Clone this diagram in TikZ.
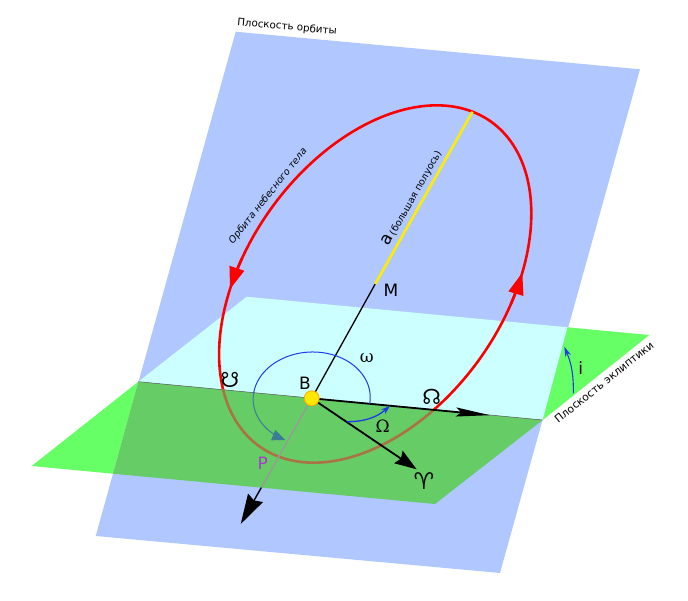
\documentclass[tikz,border=0pt]{standalone}
\usepackage{fontspec}
\setmainfont{DejaVu Sans}
\newfontfamily\serifsym{DejaVu Serif}
\usetikzlibrary{arrows.meta}

\definecolor{orbplane}{RGB}{176,200,255}
\definecolor{eclback}{RGB}{204,255,255}
\definecolor{eclbright}{RGB}{102,255,102}
\definecolor{eclfront}{RGB}{102,204,102}
\definecolor{orbred}{RGB}{255,0,0}
\definecolor{orbbrown}{RGB}{170,115,70}
\definecolor{angblue}{RGB}{30,60,230}
\definecolor{angteal}{RGB}{60,125,150}
\definecolor{perilbl}{RGB}{170,60,200}

\tikzset{
  orbit/.style={line width=2.6pt, line cap=round},
  lbl/.style={inner sep=0pt, font=\fontsize{17}{17}\selectfont},
  sym/.style={inner sep=0pt, font=\fontsize{17}{17}\selectfont\serifsym},
  nodesym/.style={inner sep=0pt, font=\fontsize{21}{21}\selectfont},
  small/.style={inner sep=0pt, font=\fontsize{10.3}{10.3}\selectfont},
  declare function={ox(\t)=375.2+97.3*cos(\t)+122.1*sin(\t);
                    oy(\t)=284-172.3*cos(\t)+47.3*sin(\t);
                    wx(\t)=311.7+58*cos(\t)+8*sin(\t);
                    wy(\t)=398.3+5.5*cos(\t)-46*sin(\t);}
}

\begin{document}
\begin{tikzpicture}[x=1pt,y=-1pt]
\useasboundingbox (0,0) rectangle (688,600);

% plane of the orbit
\fill[orbplane] (235.7,31.7) -- (640,69.3) -- (500,573) -- (95.7,536) -- cycle;

% plane of the ecliptic
\coordinate (e1) at (31.7,466);
\coordinate (e2) at (246.7,296.7);
\coordinate (e3) at (649.3,335);
\coordinate (e4) at (435,504);
\coordinate (nl) at (138.3,381.7);
\coordinate (nr) at (542.7,420);
\coordinate (t1) at (567.7,327.3);
\coordinate (t2) at (113,473.7);
\fill[eclback] (nl) -- (e2) -- (t1) -- (nr) -- cycle;
\fill[eclbright] (e1) -- (nl) -- (t2) -- cycle;
\fill[eclbright] (t1) -- (e3) -- (nr) -- cycle;
\fill[eclfront] (nl) -- (nr) -- (e4) -- (t2) -- cycle;
\draw[gray!70!black, line width=0.5pt] (nl) -- (nr);

% orbit
\draw[orbit, orbred] plot[domain=-141.7:119.4, samples=150] ({ox(\x)},{oy(\x)});
\draw[orbit, orbbrown] plot[domain=119.4:218.3, samples=80] ({ox(\x)},{oy(\x)});
\draw[orbred, line width=2.6pt, -{Triangle[length=22pt,width=15pt]}]
  plot[domain=-97:-107, samples=8] ({ox(\x)},{oy(\x)});
\draw[orbred, line width=2.6pt, -{Triangle[length=22pt,width=15pt]}]
  plot[domain=81:71, samples=8] ({ox(\x)},{oy(\x)});

% axes from the focus
\coordinate (B) at (311.7,398.3);
\coordinate (M) at (375.2,284);
\coordinate (apo) at (472.5,111.7);
\coordinate (pedge) at (261.3,487.6);
\coordinate (ptip) at (240.7,524);
\coordinate (aries) at (416.7,469.3);
\coordinate (ntip) at (490,415.2);
\draw[black, line width=1.3pt] (B) -- (M);
\draw[yellow!95!orange, line width=2.6pt] (M) -- (apo);
\draw[gray!80, line width=1.4pt] (B) -- (pedge);
\draw[black, line width=1.4pt, -{Stealth[length=30pt,width=17pt,inset=3pt]}] (pedge) -- (ptip);
\draw[black, line width=1.8pt, -{Stealth[length=22pt,width=15pt,inset=3pt]}] (B) -- (aries);
\draw[black, line width=1.8pt, -{Stealth[length=34pt,width=9pt,inset=5pt]}] (B) -- (ntip);

% angles
\coordinate (omS) at (346.7,421.7);
\coordinate (omE) at (390,406);
\draw[angblue, line width=1.3pt, -{Stealth[length=9pt,width=6pt]}] (omS) to[bend right=20] (omE);
\draw[angblue, line width=1pt] plot[domain=0:180, samples=60] ({wx(\x)},{wy(\x)});
\draw[angteal, line width=1pt, -{Triangle[length=13pt,width=11pt]}]
  plot[domain=180:251, samples=30] ({wx(\x)},{wy(\x)});
\coordinate (iS) at (573.3,393.3);
\coordinate (iE) at (564.3,346.7);
\draw[angblue, line width=1.1pt, -{Stealth[length=10pt,width=6pt]}] (iS) to[bend right=12] (iE);

\filldraw[fill=yellow!90!orange, draw=orange!70!yellow, line width=0.8pt] (B) circle (7.5);

% labels
\node[small, rotate=-5.3] (lblorbplane) at (287,27) {Плоскость орбиты};
\node[small, font=\fontsize{10.8}{10.8}\selectfont, rotate=38.6] (lblecl) at (604,382) {Плоскость эклиптики};
\node[small, font=\fontsize{9.6}{9.6}\selectfont\itshape, rotate=51.6] (lblorbit) at (268,196) {Орбита небесного тела};
\node[inner sep=0pt, rotate=60.5] (lbla) at (412,198)
  {{\fontsize{17}{17}\selectfont a}\,{\fontsize{9.6}{9.6}\selectfont (большая полуось)}};
\node[lbl] (lblB) at (305,383.3) {B};
\node[lbl] (lblM) at (391,290) {M};
\node[lbl, text=perilbl] (lblP) at (262.7,463.3) {P};
\node[lbl] (lbli) at (580.7,368.3) {i};
\node[sym] (lblw) at (366.7,358) {ω};
\node[sym] (lblW) at (382.7,426) {Ω};
\node[nodesym] (lblasc) at (431.7,397) {☊};
\node[nodesym] (lbldesc) at (230,380) {☋};
\node[nodesym, font=\fontsize{23}{23}\selectfont] (lblaries) at (424,481) {♈};
\end{tikzpicture}
\end{document}
